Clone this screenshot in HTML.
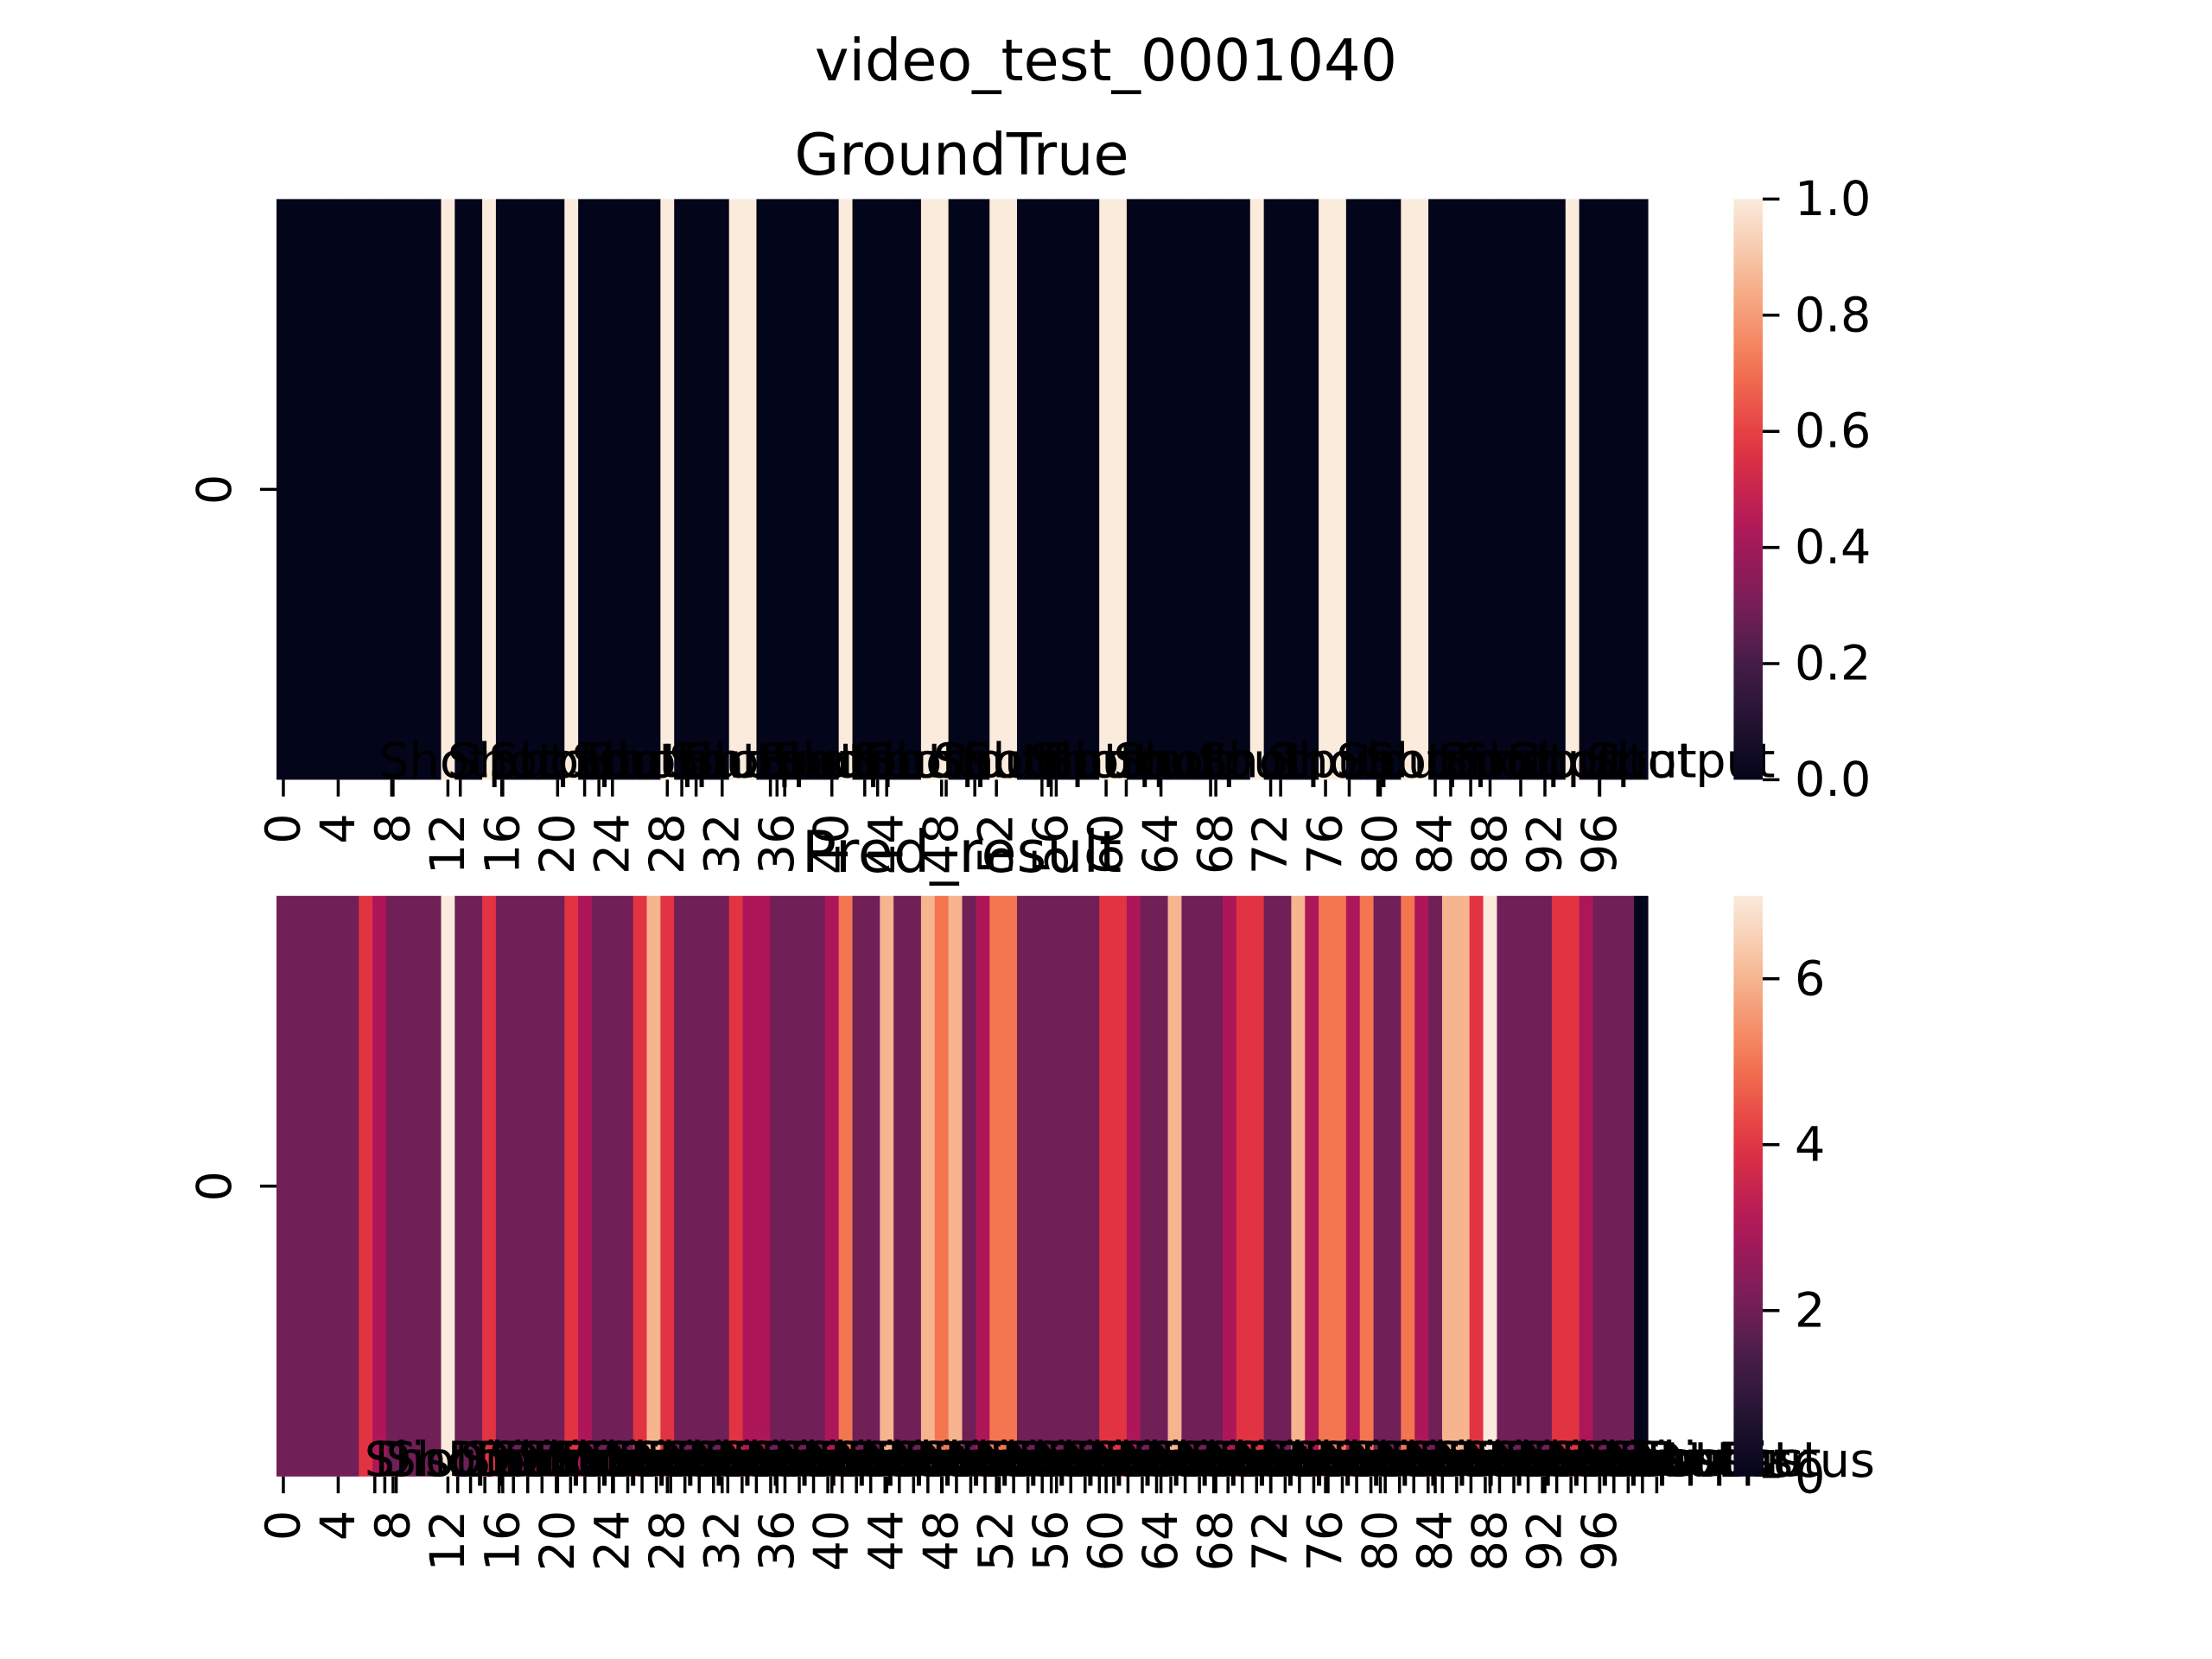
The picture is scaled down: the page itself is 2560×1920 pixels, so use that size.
<!DOCTYPE html>
<html><head><meta charset="utf-8"><style>
html,body{margin:0;padding:0;background:#fff;}
svg{display:block;}
text{font-family:"DejaVu Sans","Liberation Sans",sans-serif;fill:#000;}
</style></head><body>
<svg id="fig" width="2560" height="1920" viewBox="0 0 2560 1920" xmlns="http://www.w3.org/2000/svg">
<text x="1280" y="93" font-size="66.7" text-anchor="middle">video_test_0001040</text>
<text x="1113" y="202" font-size="66.7" text-anchor="middle">GroundTrue</text>
<text x="1113" y="1009" font-size="66.7" text-anchor="middle">Pred_result</text>
<defs>
<linearGradient id="rocket" x1="0" y1="1" x2="0" y2="0"></linearGradient>
</defs>
<g id="top"></g>
<g id="bot"></g>
</svg>
<script>
const gtValues=[0,0,0,0,0,0,0,0,0,0,0,0,1,0,0,1,0,0,0,0,0,1,0,0,0,0,0,0,1,0,0,0,0,1,1,0,0,0,0,0,0,1,0,0,0,0,0,1,1,0,0,0,1,1,0,0,0,0,0,0,1,1,0,0,0,0,0,0,0,0,0,1,0,0,0,0,1,1,0,0,0,0,1,1,0,0,0,0,0,0,0,0,0,0,1,0,0,0,0,0];
const predValues=[2,2,2,2,2,2,4,3,2,2,2,2,7,2,2,4,2,2,2,2,2,4,3,2,2,2,4,6,4,2,2,2,2,4,3,3,2,2,2,2,3,5,2,2,6,2,2,6,5,6,2,3,5,5,2,2,2,2,2,2,4,4,3,2,2,6,2,2,2,3,4,4,2,2,6,3,5,5,3,5,2,2,5,3,2,6,6,4,7,2,2,2,2,4,4,3,2,2,2,0];
const gtTicks=[0,0.2,0.4,0.6,0.8,1.0];
const gtTickLabels=["0.0","0.2","0.4","0.6","0.8","1.0"];
const predTicks=[0,2,4,6];
const predTickLabels=["0","2","4","6"];
const xTickIdx=[0,4,8,12,16,20,24,28,32,36,40,44,48,52,56,60,64,68,72,76,80,84,88,92,96];
const topLabelX=[265,313,342,400,410,468,478,530,540,596,605,653,673,720,730,779,838,887,935,955,1006,1020,1055,1110];
const botLabelX=[255,262,270,313,322,332,342,352,362,372,382,392,402,412,422,432,442,452,462,472,482,492,502,512,522,532,542,552,562,572,582,592,602,612,622,632,642,652,662,672,682,692,702,712,722,732,742,752,762,772,782,792,802,812,822,832,842,852,862,872,882,892,902,912,922,932,942,952,962,972,982,992,1002,1012,1022,1032,1042,1052,1062,1072,1082,1092,1102,1112,1122,1132,1142,1152];
const botLabelText=["Shotput","Discus","Shotput","Discus"];

const NS="http://www.w3.org/2000/svg";
const stops=[[0,"#03051a"],[0.1,"#221331"],[0.2,"#451c47"],[0.286,"#701f57"],[0.429,"#ad1759"],[0.571,"#e13342"],[0.714,"#f37651"],[0.857,"#f6b48f"],[1,"#faebdd"]];
function hex(c){return [1,3,5].map(i=>parseInt(c.substr(i,2),16));}
function cmap(t){t=Math.max(0,Math.min(1,t));for(let i=1;i<stops.length;i++){if(t<=stops[i][0]){const a=stops[i-1],b=stops[i];const f=(t-a[0])/(b[0]-a[0]);const A=hex(a[1]),B=hex(b[1]);return "rgb("+A.map((v,k)=>Math.round(v+(B[k]-v)*f)).join(",")+")";}}return stops[stops.length-1][1];}
const grad=document.getElementById('rocket');
for(let i=0;i<=20;i++){const s=document.createElementNS(NS,'stop');s.setAttribute('offset',(i/20));s.setAttribute('stop-color',cmap(i/20));grad.appendChild(s);}
function mk(tag,attrs,parent){const e=document.createElementNS(NS,tag);for(const k in attrs)e.setAttribute(k,attrs[k]);parent.appendChild(e);return e;}

const X0=320,X1=1907,CB0=2006.4,CBW=33.6;
function drawPanel(g,vals,vmax,y0,y1,ticks,tickLabels,isTop){
  const n=vals.length;const cw=(X1-X0)/n;
  const xs=i=>X0+i*cw;
  vals.forEach((v,i)=>{
    const r=mk('rect',{x:xs(i),y:y0,width:cw+0.6,height:y1-y0,fill:cmap(v/vmax)},g);
    
    
  });
  const yc=(y0+y1)/2;
  mk('line',{x1:301,y1:yc,x2:320,y2:yc,stroke:'#000','stroke-width':3.5},g);
  const yl=mk('text',{x:0,y:0,'font-size':55.6,'text-anchor':'middle',transform:`translate(267,${yc}) rotate(-90)`},g);
  yl.textContent='0';
  
  
  xTickIdx.forEach(i=>{
    const x=xs(i)+cw/2;
    mk('line',{x1:x,y1:y1,x2:x,y2:y1+19.4,stroke:'#000','stroke-width':3.5},g);
    const t=mk('text',{x:0,y:0,'font-size':55.6,'text-anchor':'end','dominant-baseline':'central',transform:`translate(${x},${y1+39}) rotate(-90)`},g);
    t.textContent=String(i);
    
    
  });
  if(isTop){
    topLabelX.forEach(dx=>{
      const x=dx*1.654;
      mk('line',{x1:x+15,y1:y1,x2:x+15,y2:y1+19.4,stroke:'#000','stroke-width':3.5},g);
      const t=mk('text',{x:x,y:y1-3,'font-size':55.6},g);
      t.textContent='Shotput';
      
      
    });
  } else {
    botLabelX.forEach((dx,k)=>{
      const x=dx*1.654;
      mk('line',{x1:x+12,y1:y1,x2:x+12,y2:y1+19.4,stroke:'#000','stroke-width':3.5},g);
      const t=mk('text',{x:x,y:y1-1,'font-size':55.6},g);
      t.textContent=botLabelText[k%botLabelText.length];
      
      
    });
    const d=mk('text',{x:2170,y:y1,'font-size':55.6,'text-anchor':'end'},g);
    d.textContent='Discus';
    
    
  }
  const cb=mk('rect',{x:CB0,y:y0,width:CBW,height:y1-y0,fill:'url(#rocket)'},g);
  
  
  const cy=v=>y1-(v/vmax)*(y1-y0);
  ticks.forEach((v,k)=>{
    const y=cy(v);
    mk('line',{x1:CB0+CBW,y1:y,x2:CB0+CBW+19.4,y2:y,stroke:'#000','stroke-width':3.5},g);
    const t=mk('text',{x:2077,y:y,'font-size':55.6,'dominant-baseline':'central'},g);
    t.textContent=tickLabels[k];
    
    
  });
}
drawPanel(document.getElementById('top'),gtValues,1,230.4,902.4,gtTicks,gtTickLabels,true);
drawPanel(document.getElementById('bot'),predValues,7,1036.8,1708.8,predTicks,predTickLabels,false);
</script>
</body></html>
